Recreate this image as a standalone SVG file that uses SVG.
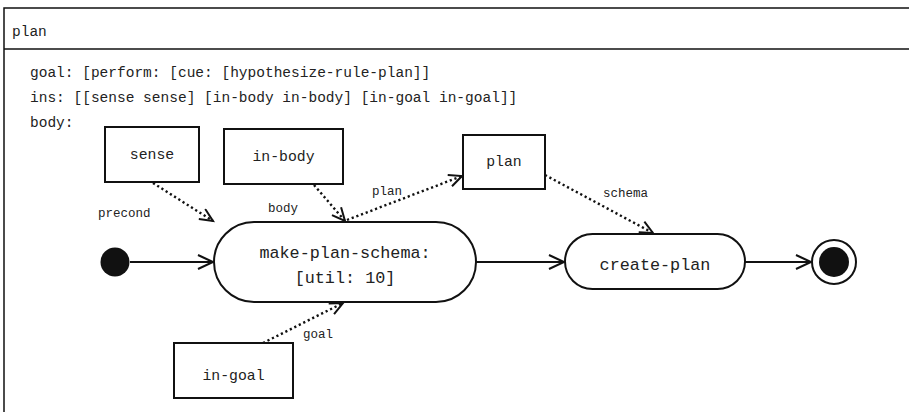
<svg xmlns="http://www.w3.org/2000/svg" width="909" height="412" viewBox="0 0 909 412">
<style>
  text { font-family: "Liberation Mono", "Courier New", monospace; fill: #222; }
  .hdr { font-size: 14.5px; }
  .box { fill: #fff; stroke: #111; stroke-width: 2; }
  .bt { font-size: 14.8px; text-anchor: middle; }
  .rt { font-size: 16.8px; text-anchor: middle; }
  .lbl { font-size: 12.5px; }
  .solid { fill: none; stroke: #111; stroke-width: 2; }
  .dot { fill: none; stroke: #111; stroke-width: 2.4; stroke-dasharray: 2.2 2.8; }
</style>
<defs>
  <marker id="arr" markerUnits="userSpaceOnUse" markerWidth="20" markerHeight="20" refX="16" refY="8" orient="auto" viewBox="0 0 20 20">
    <path d="M1,1 L16,8 L1,15" fill="none" stroke="#111" stroke-width="2"/>
  </marker>
  <marker id="arrd" markerUnits="userSpaceOnUse" markerWidth="20" markerHeight="20" refX="14" refY="7" orient="auto" viewBox="0 0 20 20">
    <path d="M1,1 L14,7 L1,13" fill="none" stroke="#111" stroke-width="2"/>
  </marker>
</defs>
<rect x="0" y="0" width="909" height="412" fill="#fff"/>
<g id="frame">
  <rect x="4" y="8" width="930" height="430" fill="none" stroke="#111" stroke-width="1.5"/>
  <line x1="4" y1="49" x2="909" y2="49" stroke="#111" stroke-width="1.5"/>
  <text class="hdr" x="12" y="36">plan</text>
  <text class="hdr" x="30" y="77">goal: [perform: [cue: [hypothesize-rule-plan]]</text>
  <text class="hdr" x="30" y="102">ins: [[sense sense] [in-body in-body] [in-goal in-goal]]</text>
  <text class="hdr" x="30" y="127">body:</text>
</g>
<g id="connectors">
  <line class="solid" x1="130" y1="262" x2="213" y2="262" marker-end="url(#arr)"/>
  <line class="solid" x1="476" y1="262" x2="564" y2="262" marker-end="url(#arr)"/>
  <line class="solid" x1="745" y1="262" x2="811" y2="262" marker-end="url(#arr)"/>
  <line class="dot" x1="153" y1="183" x2="213" y2="221" marker-end="url(#arrd)"/>
  <line class="dot" x1="314" y1="185" x2="345" y2="221" marker-end="url(#arrd)"/>
  <line class="dot" x1="347" y1="220" x2="462" y2="176" marker-end="url(#arrd)"/>
  <line class="dot" x1="545" y1="175" x2="653" y2="233" marker-end="url(#arrd)"/>
  <line class="dot" x1="263" y1="343" x2="343" y2="303" marker-end="url(#arrd)"/>
  <text class="lbl" x="98" y="217">precond</text>
  <text class="lbl" x="268" y="212">body</text>
  <text class="lbl" x="372" y="195">plan</text>
  <text class="lbl" x="603" y="197">schema</text>
  <text class="lbl" x="303" y="338">goal</text>
</g>
<g id="initial">
  <circle cx="115" cy="262" r="14.5" fill="#111"/>
</g>
<g id="sense">
  <rect class="box" x="105" y="127" width="94" height="55"/>
  <text class="bt" x="152" y="159">sense</text>
</g>
<g id="in-body">
  <rect class="box" x="224" y="129" width="119" height="55"/>
  <text class="bt" x="283.5" y="161">in-body</text>
</g>
<g id="plan">
  <rect class="box" x="463" y="135" width="82" height="54"/>
  <text class="bt" x="504" y="166">plan</text>
</g>
<g id="make-plan-schema">
  <rect class="box" x="214" y="222" width="262" height="80" rx="40" ry="40"/>
  <text class="rt" x="345" y="258">make-plan-schema:</text>
  <text class="rt" x="345" y="283">[util: 10]</text>
</g>
<g id="create-plan">
  <rect class="box" x="565" y="234" width="180" height="55" rx="27.5" ry="27.5"/>
  <text class="rt" x="655" y="270">create-plan</text>
</g>
<g id="final">
  <circle cx="834" cy="262" r="22" fill="#fff" stroke="#111" stroke-width="2"/>
  <circle cx="834" cy="262" r="15" fill="#111"/>
</g>
<g id="in-goal">
  <rect class="box" x="174" y="343" width="119" height="55"/>
  <text class="bt" x="233.5" y="380">in-goal</text>
</g>
</svg>
